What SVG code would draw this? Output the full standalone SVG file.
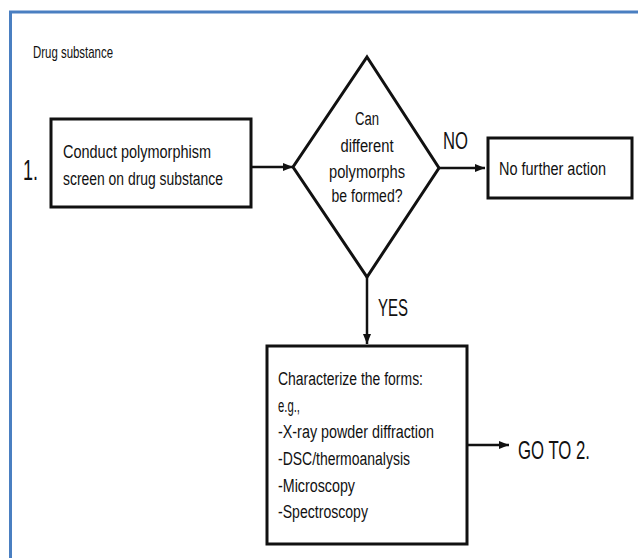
<svg xmlns="http://www.w3.org/2000/svg" width="638" height="558" viewBox="0 0 638 558">
  <style>
    .box { fill: #ffffff; stroke: #111111; stroke-width: 3; }
    .conn { fill: none; stroke: #111111; stroke-width: 2.5; }
    text { font-family: "Liberation Sans", Arial, sans-serif; fill: #111111; }
    .body { font-size: 18px; }
    .lbl { font-size: 23px; }
  </style>
  <defs>
    <marker id="arrow" markerUnits="userSpaceOnUse" markerWidth="10" markerHeight="10" viewBox="0 0 10 10" refX="10" refY="5" orient="auto">
      <path d="M0,1 L10,5 L0,9 z" fill="#111111"/>
    </marker>
  </defs>
  <rect x="0" y="0" width="638" height="558" fill="#ffffff"/>
  <path d="M10.5 558 V12 H638" fill="none" stroke="#4a7fc1" stroke-width="3"/>

  <g id="title">
    <text x="33" y="58" font-size="17" textLength="80" lengthAdjust="spacingAndGlyphs">Drug substance</text>
  </g>

  <g id="step-number">
    <text x="23" y="180" font-size="29" textLength="15" lengthAdjust="spacingAndGlyphs">1.</text>
  </g>

  <g id="node-screen">
    <rect class="box" x="51" y="119" width="200" height="88"/>
    <text class="body" x="63" y="158" textLength="148" lengthAdjust="spacingAndGlyphs">Conduct polymorphism</text>
    <text class="body" x="63" y="185" textLength="160" lengthAdjust="spacingAndGlyphs">screen on drug substance</text>
  </g>

  <g id="node-decision">
    <path class="box" d="M367 57 L439 168 L367 277 L293 167 Z" style="fill:none"/>
    <text class="body" x="367" y="125" text-anchor="middle" textLength="24" lengthAdjust="spacingAndGlyphs">Can</text>
    <text class="body" x="367" y="152" text-anchor="middle" textLength="53" lengthAdjust="spacingAndGlyphs">different</text>
    <text class="body" x="367" y="178" text-anchor="middle" textLength="76" lengthAdjust="spacingAndGlyphs">polymorphs</text>
    <text class="body" x="367" y="202" text-anchor="middle" textLength="71" lengthAdjust="spacingAndGlyphs">be formed?</text>
  </g>

  <g id="node-no-action">
    <rect class="box" x="488" y="138" width="144" height="60"/>
    <text class="body" x="499" y="175" textLength="107" lengthAdjust="spacingAndGlyphs">No further action</text>
  </g>

  <g id="node-characterize">
    <rect class="box" x="267" y="346" width="200" height="198"/>
    <text class="body" x="278" y="385" textLength="145" lengthAdjust="spacingAndGlyphs">Characterize the forms:</text>
    <text class="body" x="278" y="412" textLength="22" lengthAdjust="spacingAndGlyphs">e.g.,</text>
    <text class="body" x="278" y="438" textLength="156" lengthAdjust="spacingAndGlyphs">-X-ray powder diffraction</text>
    <text class="body" x="278" y="465" textLength="132" lengthAdjust="spacingAndGlyphs">-DSC/thermoanalysis</text>
    <text class="body" x="278" y="492" textLength="77" lengthAdjust="spacingAndGlyphs">-Microscopy</text>
    <text class="body" x="278" y="518" textLength="90" lengthAdjust="spacingAndGlyphs">-Spectroscopy</text>
  </g>

  <g id="node-goto">
    <text x="518" y="459" font-size="26" textLength="72" lengthAdjust="spacingAndGlyphs">GO TO 2.</text>
  </g>

  <g id="connectors">
    <line class="conn" x1="252" y1="167" x2="293" y2="167" marker-end="url(#arrow)"/>
    <line class="conn" x1="439" y1="168" x2="485" y2="168" marker-end="url(#arrow)"/>
    <line class="conn" x1="367" y1="277" x2="367" y2="344" marker-end="url(#arrow)"/>
    <line class="conn" x1="468" y1="445" x2="509" y2="445" marker-end="url(#arrow)"/>
    <text class="lbl" x="443" y="149" textLength="25" lengthAdjust="spacingAndGlyphs">NO</text>
    <text class="lbl" x="378" y="316" textLength="30" lengthAdjust="spacingAndGlyphs">YES</text>
  </g>
</svg>
